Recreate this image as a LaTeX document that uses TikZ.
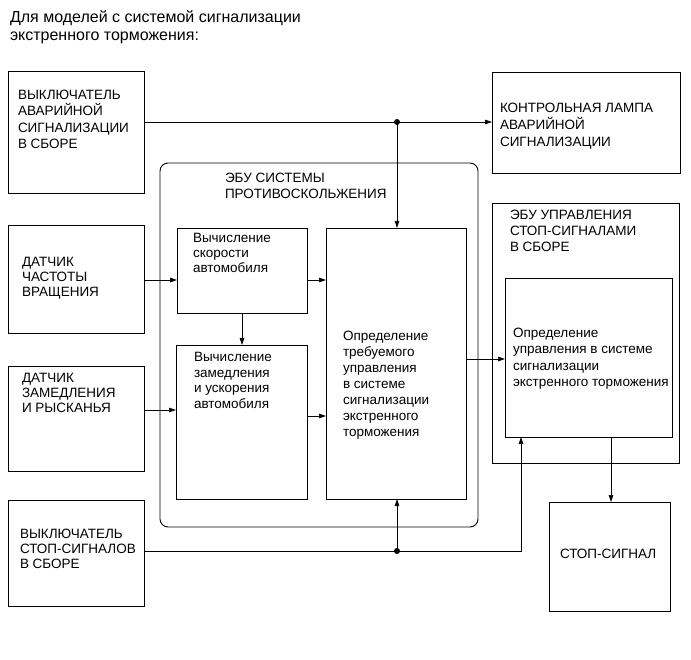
\documentclass[tikz,border=0pt]{standalone}
\usepackage{fontspec}
\setmainfont{Liberation Sans}
\usetikzlibrary{arrows.meta}
\newcommand{\tl}[2]{\parbox[t]{300pt}{\raggedright\baselineskip=#1pt #2}}
\begin{document}
\begin{tikzpicture}[x=1pt,y=-1pt,
  box/.style={draw,line width=0.9pt,anchor=north west,inner sep=0pt,outer sep=0pt},
  rbox/.style={box,rounded corners=8pt},
  txt/.style={anchor=base west,inner sep=0pt,outer sep=0pt,font=\fontsize{13.5}{15.5}\selectfont},
  ttl/.style={anchor=base west,inner sep=0pt,outer sep=0pt,font=\fontsize{16}{18}\selectfont},
  con/.style={line width=0.7pt},
  arr/.style={con,-{Triangle[length=7pt,width=4.5pt]}},
  dot/.style={circle,fill,inner sep=0pt,minimum size=6pt}]
\useasboundingbox (0,0) rectangle (691,660);
% title
\node[ttl] (title) at (10,23) {\tl{18}{Для моделей с системой сигнализации\\экстренного торможения:}};
% boxes
\node[box,minimum width=136pt,minimum height=122pt] (A) at (8,71) {};
\node[box,minimum width=188pt,minimum height=101pt] (Lamp) at (492,72) {};
\node[rbox,minimum width=318pt,minimum height=364pt] (ECU) at (160,163) {};
\node[box,minimum width=130pt,minimum height=85pt] (V1) at (177,228) {};
\node[box,minimum width=131pt,minimum height=154pt] (V2) at (176,345) {};
\node[box,minimum width=140pt,minimum height=271pt] (D) at (326,228) {};
\node[box,minimum width=136pt,minimum height=108pt] (B) at (8,225) {};
\node[box,minimum width=136pt,minimum height=105pt] (C) at (8,366) {};
\node[box,minimum width=136pt,minimum height=106pt] (S) at (8,500) {};
\node[box,minimum width=187pt,minimum height=260pt] (R) at (492,203) {};
\node[box,minimum width=167pt,minimum height=159pt] (RI) at (505,278) {};
\node[box,minimum width=121pt,minimum height=109pt] (L) at (549,502) {};
% texts
\node[txt] (tA) at (18,99.5) {\tl{16.5}{ВЫКЛЮЧАТЕЛЬ\\АВАРИЙНОЙ\\СИГНАЛИЗАЦИИ\\В СБОРЕ}};
\node[txt] (tLamp) at (500,112.5) {\tl{16.8}{КОНТРОЛЬНАЯ ЛАМПА\\АВАРИЙНОЙ\\СИГНАЛИЗАЦИИ}};
\node[txt] (tECU) at (225,182.5) {\tl{16.5}{ЭБУ СИСТЕМЫ\\ПРОТИВОСКОЛЬЖЕНИЯ}};
\node[txt] (tV1) at (193,242.5) {\tl{15.2}{Вычисление\\скорости\\автомобиля}};
\node[txt] (tV2) at (194,361.5) {\tl{15.7}{Вычисление\\замедления\\и ускорения\\автомобиля}};
\node[txt] (tD) at (343,341) {\tl{16}{Определение\\требуемого\\управления\\в системе\\сигнализации\\экстренного\\торможения}};
\node[txt] (tB) at (22,266.5) {\tl{15}{ДАТЧИК\\ЧАСТОТЫ\\ВРАЩЕНИЯ}};
\node[txt] (tC) at (22,382.5) {\tl{15}{ДАТЧИК\\ЗАМЕДЛЕНИЯ\\И РЫСКАНЬЯ}};
\node[txt] (tS) at (20,538.5) {\tl{15}{ВЫКЛЮЧАТЕЛЬ\\СТОП-СИГНАЛОВ\\В СБОРЕ}};
\node[txt] (tR) at (510,219.5) {\tl{16}{ЭБУ УПРАВЛЕНИЯ\\СТОП-СИГНАЛАМИ\\В СБОРЕ}};
\node[txt] (tRI) at (513,337.5) {\tl{16.3}{Определение\\управления в системе\\сигнализации\\экстренного торможения}};
\node[txt] (tL) at (560,558) {СТОП-СИГНАЛ};
% junctions and levels
\coordinate (j1) at (397,122);
\coordinate (j2) at (397,551);
\coordinate (k2) at (521,551);
\coordinate (y1) at (0,280);
\coordinate (y2) at (0,410);
\coordinate (y3) at (0,416);
\coordinate (y4) at (0,359);
\coordinate (x1) at (242,0);
\coordinate (x2) at (611,0);
% connectors
\draw[arr] (A.east |- j1) -- (Lamp.west |- j1);
\draw[arr] (j1) -- (D.north -| j1);
\draw[arr] (B.east |- y1) -- (V1.west |- y1);
\draw[arr] (V1.east |- y1) -- (D.west |- y1);
\draw[arr] (V1.south -| x1) -- (V2.north -| x1);
\draw[arr] (C.east |- y2) -- (V2.west |- y2);
\draw[arr] (V2.east |- y3) -- (D.west |- y3);
\draw[arr] (D.east |- y4) -- (RI.west |- y4);
\draw[arr] (S.east |- j2) -- (k2) -- (RI.south -| k2);
\draw[arr] (j2) -- (D.south -| j2);
\draw[arr] (RI.south -| x2) -- (L.north -| x2);
\node[dot] (d1) at (j1) {};
\node[dot] (d2) at (j2) {};
\end{tikzpicture}
\end{document}
